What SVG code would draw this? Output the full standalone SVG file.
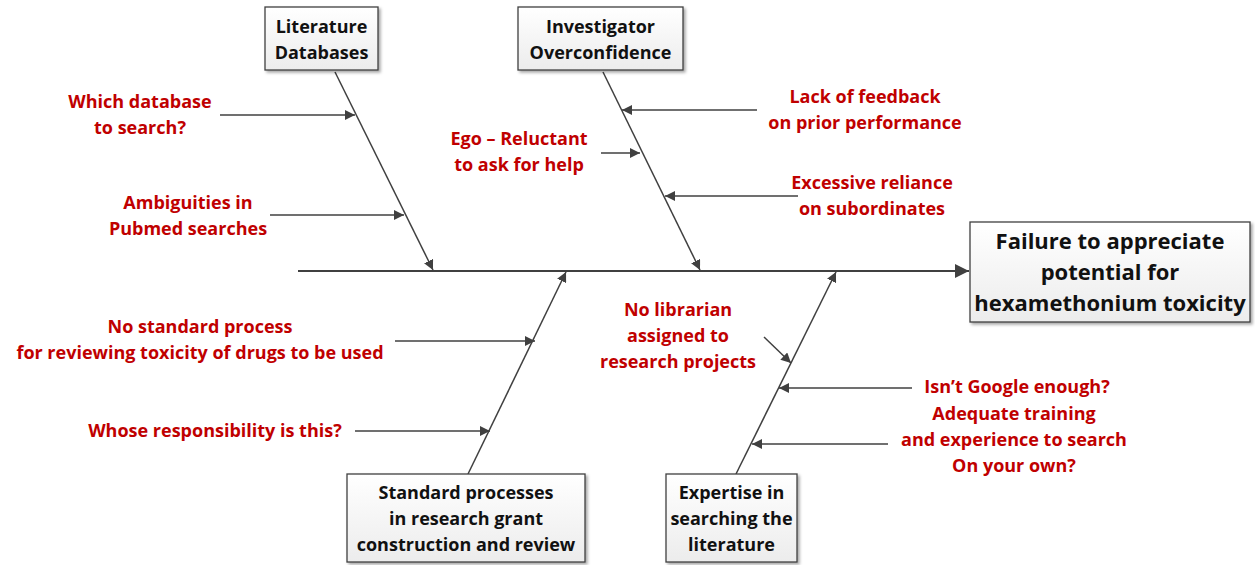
<svg xmlns="http://www.w3.org/2000/svg" width="1255" height="565" viewBox="0 0 1255 565">
<defs>
<linearGradient id="boxg" x1="0" y1="0" x2="0" y2="1"><stop offset="0" stop-color="#ffffff"/><stop offset="1" stop-color="#ececec"/></linearGradient>
<filter id="sh" x="-10%" y="-10%" width="130%" height="130%"><feDropShadow dx="2" dy="2" stdDeviation="1.5" flood-color="#000" flood-opacity="0.35"/></filter>
<marker id="ah" viewBox="0 0 10 10" refX="10" refY="5" markerWidth="10" markerHeight="10" markerUnits="userSpaceOnUse" orient="auto"><path d="M0,0 L10,5 L0,10 z" fill="#404040"/></marker>
<marker id="ahb" viewBox="0 0 10 10" refX="10" refY="5" markerWidth="14" markerHeight="14" markerUnits="userSpaceOnUse" orient="auto"><path d="M0,0 L10,5 L0,10 z" fill="#404040"/></marker>
</defs>
<style>
.box{fill:url(#boxg);stroke:#404040;stroke-width:1.3;filter:url(#sh)}
.bt{font-family:"Open Sans","Liberation Sans",Arial,sans-serif;font-weight:700;font-size:18px;fill:#111;text-anchor:middle}
.et{font-family:"Open Sans","Liberation Sans",Arial,sans-serif;font-weight:700;font-size:22px;fill:#111;text-anchor:middle}
.rt{font-family:"Open Sans","Liberation Sans",Arial,sans-serif;font-weight:700;font-size:18px;fill:#c00000;text-anchor:middle}
.ln{stroke:#404040;stroke-width:1.5;fill:none;marker-end:url(#ah)}
.sp{stroke:#404040;stroke-width:2.2;fill:none;marker-end:url(#ahb)}
</style>
<g id="connectors">
<line class="sp" x1="298" y1="271" x2="969" y2="271"/>
<line class="ln" x1="335" y1="72" x2="433" y2="270"/>
<line class="ln" x1="603" y1="72" x2="700" y2="270"/>
<line class="ln" x1="468" y1="474" x2="566" y2="272"/>
<line class="ln" x1="736" y1="474" x2="836" y2="272"/>
<line class="ln" x1="220" y1="115" x2="355" y2="115"/>
<line class="ln" x1="270" y1="215" x2="404" y2="215"/>
<line class="ln" x1="757" y1="110" x2="622" y2="110"/>
<line class="ln" x1="601" y1="153" x2="640" y2="153"/>
<line class="ln" x1="798" y1="196" x2="665" y2="196"/>
<line class="ln" x1="395" y1="341" x2="535" y2="341"/>
<line class="ln" x1="355" y1="431" x2="490" y2="431"/>
<line class="ln" x1="764" y1="337" x2="791" y2="363"/>
<line class="ln" x1="912" y1="388" x2="779" y2="388"/>
<line class="ln" x1="888" y1="444" x2="752" y2="444"/>
</g>
<g id="n-literature">
<rect class="box" x="265" y="7" width="113" height="63"/>
<text class="bt" x="321.5" y="33">Literature</text>
<text class="bt" x="321.5" y="59">Databases</text>
</g>
<g id="n-investigator">
<rect class="box" x="518" y="7" width="165" height="63"/>
<text class="bt" x="600.5" y="33">Investigator</text>
<text class="bt" x="600.5" y="59">Overconfidence</text>
</g>
<g id="n-standard">
<rect class="box" x="347" y="474" width="238" height="88"/>
<text class="bt" x="466" y="499">Standard processes</text>
<text class="bt" x="466" y="525">in research grant</text>
<text class="bt" x="466" y="551">construction and review</text>
</g>
<g id="n-expertise">
<rect class="box" x="666" y="474" width="131" height="88"/>
<text class="bt" x="731.5" y="499">Expertise in</text>
<text class="bt" x="731.5" y="525">searching the</text>
<text class="bt" x="731.5" y="551">literature</text>
</g>
<g id="n-effect">
<rect class="box" x="970" y="222" width="280" height="100"/>
<text class="et" x="1110" y="249">Failure to appreciate</text>
<text class="et" x="1110" y="280">potential for</text>
<text class="et" x="1110" y="311">hexamethonium toxicity</text>
</g>
<g id="n-which">
<text class="rt" x="140" y="108">Which database</text>
<text class="rt" x="140" y="134">to search?</text>
</g>
<g id="n-ambig">
<text class="rt" x="188" y="209">Ambiguities in</text>
<text class="rt" x="188" y="235">Pubmed searches</text>
</g>
<g id="n-lack">
<text class="rt" x="865" y="103">Lack of feedback</text>
<text class="rt" x="865" y="129">on prior performance</text>
</g>
<g id="n-ego">
<text class="rt" x="519" y="145">Ego – Reluctant</text>
<text class="rt" x="519" y="171">to ask for help</text>
</g>
<g id="n-excessive">
<text class="rt" x="872" y="189">Excessive reliance</text>
<text class="rt" x="872" y="215">on subordinates</text>
</g>
<g id="n-nostandard">
<text class="rt" x="200" y="333">No standard process</text>
<text class="rt" x="200" y="359">for reviewing toxicity of drugs to be used</text>
</g>
<g id="n-whose">
<text class="rt" x="215" y="437">Whose responsibility is this?</text>
</g>
<g id="n-librarian">
<text class="rt" x="678" y="316">No librarian</text>
<text class="rt" x="678" y="342">assigned to</text>
<text class="rt" x="678" y="368">research projects</text>
</g>
<g id="n-google">
<text class="rt" x="1017" y="393">Isn’t Google enough?</text>
</g>
<g id="n-adequate">
<text class="rt" x="1014" y="420">Adequate training</text>
<text class="rt" x="1014" y="446">and experience to search</text>
<text class="rt" x="1014" y="472">On your own?</text>
</g>
</svg>
